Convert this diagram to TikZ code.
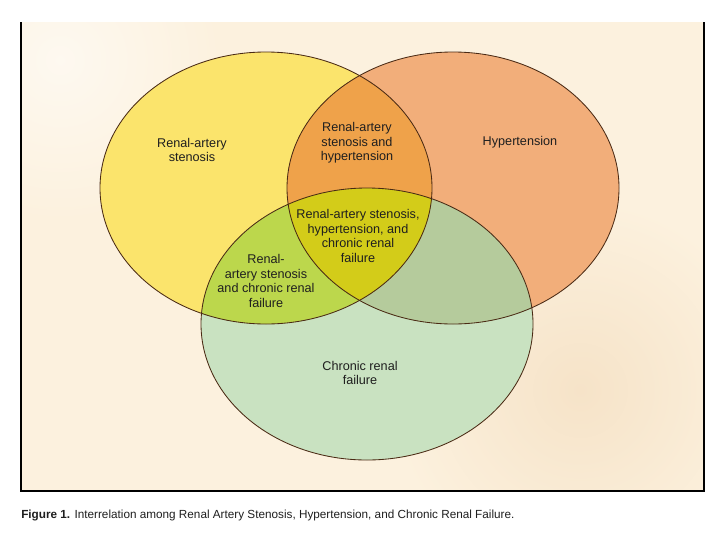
\documentclass[tikz,border=0pt]{standalone}
\usepackage{fontspec}
\setmainfont{Liberation Sans}

\definecolor{paper}{HTML}{FCF1DE}
\definecolor{glow}{HTML}{F6E3C8}
\definecolor{rasYellow}{HTML}{FBE46C}
\definecolor{htnOrange}{HTML}{F2AE7A}
\definecolor{crfGreen}{HTML}{C9E2C1}
\definecolor{rasHtn}{HTML}{EFA24A}
\definecolor{rasCrf}{HTML}{BCD74C}
\definecolor{htnCrf}{HTML}{B5CB9C}
\definecolor{allThree}{HTML}{D3CC19}
\definecolor{rim}{HTML}{4A2A14}

\begin{document}
\begin{tikzpicture}[x=0.025cm, y=-0.025cm,
    circ/.style={x radius=166, y radius=136},
    lbl/.style={align=center, inner sep=0pt, text=black!88,
        font=\fontsize{9}{10.3}\selectfont}]
    \useasboundingbox (0,0) rectangle (720,540);
    \fill[white] (0,0) rectangle (720,540);

    % Panel with a soft glow behind the circles
    \fill[paper] (21,22) rectangle (704,491);
    \begin{scope}
        \clip (21,22) rectangle (704,491);
        \shade[inner color=glow, outer color=paper] (580,390) circle [radius=190];
        \shade[inner color=white!55!paper, outer color=paper] (60,60) circle [radius=160];
    \end{scope}
    \draw[line width=0.9pt] (21,22) -- (21,491) -- (704,491) -- (704,22);

    % The three sets
    \fill[rasYellow] (266,188) ellipse [circ];
    \fill[htnOrange] (453,188) ellipse [circ];
    \fill[crfGreen] (367,324) ellipse [circ];

    % Overlaps
    \begin{scope}
        \clip (453,188) ellipse [circ];
        \fill[htnCrf] (367,324) ellipse [circ];
    \end{scope}
    \begin{scope}
        \clip (266,188) ellipse [circ];
        \fill[rasHtn] (453,188) ellipse [circ];
        \fill[rasCrf] (367,324) ellipse [circ];
        \clip (453,188) ellipse [circ];
        \fill[allThree] (367,324) ellipse [circ];
    \end{scope}

    \draw[rim, line width=0.6pt] (266,188) ellipse [circ];
    \draw[rim, line width=0.6pt] (453,188) ellipse [circ];
    \draw[rim, line width=0.6pt] (367,324) ellipse [circ];

    \node[lbl] (ras) at (192,150) {Renal-artery\\stenosis};
    \node[lbl] (rashtn) at (357,143) {Renal-artery\\stenosis and\\hypertension};
    \node[lbl] (htn) at (520,142) {Hypertension};
    \node[lbl] (all) at (358,236) {Renal-artery stenosis,\\hypertension, and\\chronic renal\\failure};
    \node[lbl] (rascrf) at (266,281) {Renal-\\artery stenosis\\and chronic renal\\failure};
    \node[lbl] (crf) at (360,373) {Chronic renal\\failure};

    \node[anchor=west, inner sep=0pt, text=black!88, font=\fontsize{8.35}{10}\selectfont]
        (caption) at (21,515) {\textbf{Figure 1.} Interrelation among Renal Artery Stenosis, Hypertension, and Chronic Renal Failure.};
\end{tikzpicture}
\end{document}
